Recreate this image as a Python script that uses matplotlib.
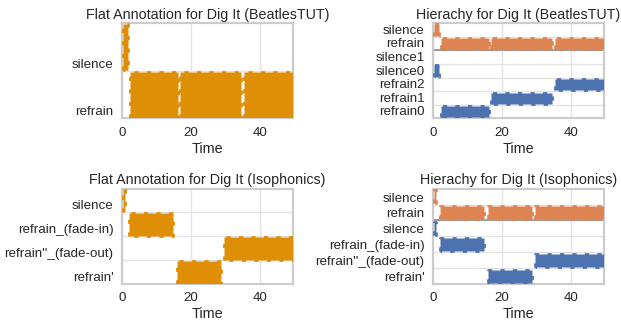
import matplotlib
matplotlib.use("Agg")
import matplotlib.pyplot as plt

plt.rcParams["font.family"] = ["Liberation Sans", "DejaVu Sans"]
plt.rcParams["text.color"] = "#262626"
plt.rcParams["xtick.color"] = "#262626"
plt.rcParams["ytick.color"] = "#262626"
plt.rcParams["axes.labelcolor"] = "#262626"

song_end = 49.6

# BeatlesTUT, flat annotation
tut_flat_intervals = [(0.3, 1.6), (2.4, 16.1), (16.8, 34.6), (35.3, 49.6)]
tut_flat_labels = ["silence", "refrain", "refrain", "refrain"]

# BeatlesTUT, hierarchy (level 0 = coarse, level 1 = fine)
tut_l0_intervals = [(0.3, 1.6), (2.4, 16.1), (16.8, 34.6), (35.3, 49.6)]
tut_l0_labels = ["silence", "refrain", "refrain", "refrain"]
tut_l1_intervals = [(0.3, 1.6), (2.4, 16.1), (16.8, 34.6), (35.3, 49.6)]
tut_l1_labels = ["silence0", "refrain0", "refrain1", "refrain2"]
tut_l1_label_set = ["refrain0", "refrain1", "refrain2", "silence0", "silence1"]

# Isophonics, flat annotation
iso_flat_intervals = [(0.2, 0.9), (2.0, 14.9), (15.9, 28.7), (29.6, 49.6)]
iso_flat_labels = ["silence", "refrain_(fade-in)", "refrain'", "refrain''_(fade-out)"]

# Isophonics, hierarchy
iso_l0_intervals = [(0.2, 0.9), (2.0, 14.9), (15.9, 28.7), (29.6, 49.6)]
iso_l0_labels = ["silence", "refrain", "refrain", "refrain"]
iso_l1_intervals = [(0.2, 0.9), (2.0, 14.9), (15.9, 28.7), (29.6, 49.6)]
iso_l1_labels = ["silence", "refrain_(fade-in)", "refrain'", "refrain''_(fade-out)"]

flat_color = "#de8f05"
level_colors = ["#dd8452", "#4c72b0"]

bar_style = dict(linestyle=(0, (1.5, 3)), linewidth=2)


def draw_rows(ax, intervals, labels, label_set, row0, color, inset):
    for i, lab in enumerate(label_set):
        spans = [(s, e - s) for (s, e), l in zip(intervals, labels) if l == lab]
        if spans:
            ax.broken_barh(spans, (row0 + i + inset[0], 1 - inset[0] - inset[1]),
                           facecolors=color, edgecolor=color, zorder=3, **bar_style)
    return [row0 + i for i in range(len(label_set))], list(label_set)


def style_axis(ax, ticks, ticklabels, n_rows, title):
    ax.set_xlim(0, song_end)
    ax.set_ylim(0, n_rows)
    ax.set_xticks([0, 20, 40])
    ax.set_yticks(ticks)
    ax.set_yticklabels(ticklabels, va="bottom")
    ax.tick_params(length=0, labelsize=9.6, pad=6)
    ax.grid(True, color="#e3e3e3", linewidth=1, zorder=0)
    ax.set_axisbelow(True)
    for sp in ax.spines.values():
        sp.set_color("#cccccc")
        sp.set_linewidth(1.6)
    ax.set_xlabel("Time", fontsize=10.4, labelpad=2)
    ax.set_title(title, fontsize=10.3, pad=3)


def plot_flat(ax, intervals, labels, title):
    label_set = sorted(set(labels))
    ticks, names = draw_rows(ax, intervals, labels, label_set, 0, flat_color, (0.02, 0.02))
    style_axis(ax, ticks, names, len(label_set), title)


def plot_hier(ax, levels, title):
    # levels: list of (intervals, labels, label_set), coarse first
    ticks, names = [], []
    row0 = 0
    dividers = []
    for (intervals, labels, label_set), color in reversed(list(zip(levels, level_colors))):
        t, n = draw_rows(ax, intervals, labels, label_set, row0, color, (0.08, 0.1))
        ticks += t
        names += n
        row0 += len(label_set)
        dividers.append(row0)
    style_axis(ax, ticks, names, row0, title)
    for d in dividers[:-1]:
        ax.axhline(d, color="#8c8c8c", linewidth=1.2, zorder=2)


fig, axes = plt.subplots(2, 2, figsize=(6.21, 3.25), dpi=100)
fig.subplots_adjust(left=0.1965, right=0.9726, top=0.929, bottom=0.126,
                    wspace=0.82, hspace=0.735)

plot_flat(axes[0, 0], tut_flat_intervals, tut_flat_labels,
          "Flat Annotation for Dig It (BeatlesTUT)")
plot_hier(axes[0, 1], [
    (tut_l0_intervals, tut_l0_labels, sorted(set(tut_l0_labels))),
    (tut_l1_intervals, tut_l1_labels, tut_l1_label_set),
], "Hierachy for Dig It (BeatlesTUT)")
plot_flat(axes[1, 0], iso_flat_intervals, iso_flat_labels,
          "Flat Annotation for Dig It (Isophonics)")
plot_hier(axes[1, 1], [
    (iso_l0_intervals, iso_l0_labels, sorted(set(iso_l0_labels))),
    (iso_l1_intervals, iso_l1_labels, sorted(set(iso_l1_labels))),
], "Hierachy for Dig It (Isophonics)")

fig.savefig("out.png", dpi=100)
